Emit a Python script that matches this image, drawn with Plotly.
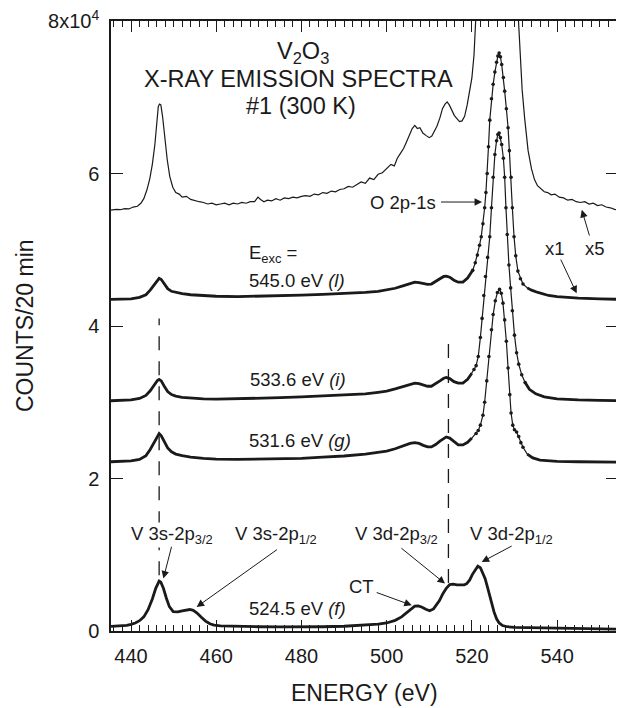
import plotly.graph_objects as go

# ---------------- data ----------------
energy_x5 = [435.3, 436.5, 437.5, 438.5, 439.5, 440.5, 441.5, 442.3, 443, 443.7, 444.4, 445, 445.6, 446.1, 446.4,
             446.7, 447.0, 447.4, 447.9, 448.5, 449.1, 449.8, 450.5, 451.3, 452, 453, 454, 455, 456, 457, 458,
             459, 460, 461, 462, 463, 464, 465, 466, 467, 468, 469, 469.8, 470.4, 471.2, 472, 473, 474, 475,
             476, 477, 478, 479, 480, 481, 482, 483, 484, 485, 486, 487, 488, 489, 490, 491, 492, 493, 494,
             495, 496, 497, 498, 499, 500, 501, 501.8, 502.5, 503.2, 504, 504.7, 505.4, 506, 506.6, 507.2,
             507.8, 508.5, 509.2, 510, 510.6, 511.2, 511.8, 512.5, 513.1, 513.7, 514.2, 514.7, 515.3, 515.9,
             516.5, 517.1, 517.7, 518.3, 518.9, 519.5, 520, 520.5, 521, 521.5, 522.5, 524, 526.4, 528.5, 530,
             530.5, 530.9, 531.3, 531.8, 532.4, 533.2, 534, 534.7, 535.4, 536.2, 537, 537.8, 538.6, 539.5,
             540.5, 541.5, 542.5, 543.5, 544.5, 545.5, 546.5, 547.5, 548.5, 549.5, 550.5, 551.5, 552.5,
             553.5, 554.3]
counts_x5 = [55200, 55300, 55250, 55400, 55350, 55600, 55700, 56100, 56700, 57800, 59300, 61200, 63800, 66800,
             68800, 69100, 69000, 67500, 64800, 61800, 59600, 58200, 57500, 57300, 56900, 57000, 56600, 56500,
             56300, 56200, 56000, 56100, 55900, 56000, 56100, 55900, 56100, 56000, 56200, 56100, 56300, 56300,
             56900, 56600, 56300, 56500, 56400, 56700, 56500, 56800, 56700, 56900, 56800, 57000, 57100, 57000,
             57300, 57200, 57500, 57400, 57700, 57600, 57900, 58000, 58300, 58200, 58600, 58900, 58700, 59400,
             59200, 59900, 60100, 60600, 61200, 61000, 62000, 62600, 63300, 64200, 65200, 65900, 66300, 65900,
             66000, 65300, 65000, 64700, 64900, 65600, 66200, 67300, 68500, 69100, 69400, 69000, 68300, 67600,
             67200, 66800, 66900, 67500, 69000, 70800, 72500, 75500, 80500, 87000, 110000, 160000, 210000,
             170000, 105000, 90000, 80500, 75500, 71000, 67200, 63000, 60600, 59200, 58400, 58000, 57600, 57500,
             57200, 57300, 56900, 56800, 56500, 56600, 56300, 56200, 56300, 56000, 56100, 55800, 55900, 55600,
             55500, 55300, 55200]

energy_l = [435.3, 438, 440, 442, 443.5, 444.5, 445.5, 446.2, 446.6, 447.1, 447.8, 448.6, 449.5, 450.5, 452,
            454, 457, 460, 465, 470, 475, 480, 485, 490, 495, 498, 500, 502, 504, 505.5, 506.6, 507.6, 508.6,
            509.6, 510.5, 511.5, 512.5, 513.4, 514, 514.8, 515.8, 516.8, 517.9, 519, 520.2, 520.8, 521.3,
            521.8, 522.2, 522.6, 523, 523.3, 523.6, 523.9, 524.2, 524.6, 525, 525.4, 525.8, 526.1, 526.4,
            526.7, 527, 527.4, 527.7, 528.1, 528.5, 528.8, 529.2, 529.5, 529.9, 530.3, 530.8, 531.4, 532,
            533, 534, 535.5, 538, 540, 545, 550, 554.3]
counts_l = [43500, 43500, 43550, 43750, 44100, 44700, 45500, 46100, 46250, 46100, 45500, 44900, 44550, 44400,
            44250, 44100, 44000, 43900, 43850, 43900, 43950, 44050, 44150, 44250, 44400, 44550, 44700, 44950,
            45300, 45550, 45750, 45700, 45550, 45450, 45500, 45800, 46200, 46500, 46550, 46400, 46000, 45750,
            45750, 46300, 47300, 48300, 49300, 50600, 51700, 53400, 55500, 57500, 60000, 63500, 67000, 69800,
            71700, 73300, 74600, 75400, 75800, 75300, 74300, 72600, 70800, 68500, 66000, 63000, 59500, 55500,
            51700, 49200, 47200, 46200, 45500, 45000, 44700, 44400, 44000, 43850, 43650, 43550, 43500]

energy_i = [435.3, 438, 440, 442, 443.5, 444.5, 445.5, 446.2, 446.6, 447.1, 447.8, 448.6, 449.5, 450.5, 452,
            454, 457, 460, 465, 470, 475, 480, 485, 490, 495, 498, 500, 502, 504, 505.5, 506.6, 507.6, 508.6,
            509.6, 510.5, 511.5, 512.5, 513.4, 514, 514.8, 515.8, 516.8, 517.9, 519, 520, 520.5, 521, 521.5,
            522, 522.4, 522.8, 523.2, 523.7, 524.2, 524.6, 525, 525.4, 525.8, 526.1, 526.4, 526.7, 527,
            527.4, 527.7, 528, 528.3, 528.7, 529.1, 529.5, 530, 530.5, 531, 531.7, 532.5, 533.5, 535, 537,
            540, 545, 550, 554.3]
counts_i = [30200, 30250, 30300, 30500, 30900, 31500, 32300, 32850, 33000, 32800, 32100, 31400, 31000, 30800,
            30650, 30550, 30450, 30400, 30450, 30500, 30600, 30700, 30850, 30950, 31100, 31300, 31450, 31750,
            32100, 32350, 32500, 32450, 32250, 32100, 32100, 32400, 32800, 33150, 33250, 33100, 32700, 32500,
            32500, 33000, 33800, 34300, 34800, 36000, 38500, 41000, 44000, 46500, 49000, 51700, 55500, 59500,
            62500, 64300, 65100, 65300, 64700, 63800, 62000, 59500, 55500, 52000, 48000, 45000, 42000, 38800,
            36500, 35000, 33600, 32600, 31700, 31100, 30700, 30450, 30300, 30250, 30200]

energy_g = [435.3, 438, 440, 442, 443.5, 444.5, 445.5, 446.2, 446.6, 447.1, 447.8, 448.6, 449.5, 450.5, 452,
            454, 457, 460, 465, 470, 475, 480, 485, 490, 495, 498, 500, 502, 504, 505.5, 506.6, 507.6, 508.6,
            509.6, 510.5, 511.5, 512.5, 513.4, 514, 514.8, 515.8, 516.8, 517.9, 519, 520, 521, 521.5, 522,
            522.6, 523, 523.5, 524, 524.6, 525, 525.5, 526, 526.5, 526.9, 527.3, 527.7, 528.1, 528.5, 528.9,
            529.2, 529.6, 530, 530.5, 531, 531.5, 532, 533, 534.3, 536, 538, 540, 545, 550, 554.3]
counts_g = [22200, 22250, 22300, 22500, 23000, 23800, 24900, 25600, 25900, 25600, 24800, 24000, 23500, 23200,
            23000, 22800, 22650, 22550, 22500, 22550, 22600, 22650, 22800, 22950, 23200, 23400, 23600, 23900,
            24300, 24600, 24700, 24600, 24350, 24150, 24150, 24450, 24900, 25300, 25450, 25300, 24800, 24400,
            24400, 24750, 25300, 25900, 26300, 27000, 28300, 30000, 32800, 36000, 39500, 41500, 43300, 44400,
            44800, 44300, 43000, 40800, 38000, 34500, 31000, 28600, 27000, 26400, 26100, 25500, 24700, 24100,
            23200, 22700, 22400, 22300, 22250, 22200, 22200, 22150]

energy_f = [435.3, 437, 439, 440, 441, 442, 443, 444, 445, 445.8, 446.3, 446.6, 447.0, 447.6, 448.3, 449,
            449.9, 451, 452, 453, 453.8, 454.6, 455.5, 456.5, 457.5, 458.5, 459.5, 461, 465, 470, 475, 480,
            485, 490, 495, 498, 500, 502, 503.5, 504.8, 505.8, 506.6, 507.4, 508.2, 509.2, 510.1, 511,
            511.8, 512.4, 513.2, 514, 514.8, 515.6, 516.5, 517.5, 518.2, 518.8, 519.5, 520.1, 520.7, 521.4,
            522, 522.6, 523.1, 523.6, 524.1, 524.6, 525.2, 525.8, 526.4, 527.2, 528.3, 530, 535, 540, 545,
            550, 554.3]
counts_f = [600, 650, 750, 880, 1050, 1350, 1850, 2800, 4200, 5600, 6300, 6550, 6400, 5600, 4300, 3200, 2550,
            2500, 2650, 2780, 2820, 2700, 2350, 1800, 1300, 950, 780, 680, 600, 560, 540, 520, 560, 620, 760,
            900, 1050, 1400, 1850, 2450, 3000, 3250, 3300, 3150, 2850, 2650, 2900, 3500, 4000, 4900, 5600,
            6100, 6150, 6050, 6000, 6050, 6200, 6700, 7400, 8000, 8500, 8300, 7600, 6900, 5900, 4800, 3600,
            2500, 1600, 1050, 720, 560, 480, 420, 370, 330, 280, 250]

x_tick_vals = [440, 460, 480, 500, 520, 540]
y_tick_vals = [0, 20000, 40000, 60000, 80000]
y_tick_text = ["0", "2", "4", "6", "8x10<sup>4</sup>"]

dashed_lines = [  # (energy, y_from, y_to)
    (446.6, 7300, 41000),
    (514.5, 6300, 38800),
]

FONT = "Liberation Sans, Arial, Helvetica, sans-serif"
INK = "#1a1a1a"

fig = go.Figure()

# dashed guide lines (drawn below the curves)
for ex, y0, y1 in dashed_lines:
    fig.add_shape(type="line", xref="x", yref="y", x0=ex, x1=ex, y0=y0, y1=y1,
                  line=dict(color=INK, width=1.3, dash="14px,11px"), layer="below")

# x5 curve (thin)
fig.add_trace(go.Scatter(x=energy_x5, y=counts_x5, mode="lines",
                         line=dict(color=INK, width=1.2), showlegend=False, hoverinfo="skip"))


def add_x1(energy, counts, lo=520.3, hi=532.2):
    # thin full curve
    fig.add_trace(go.Scatter(x=energy, y=counts, mode="lines",
                             line=dict(color=INK, width=1.2), showlegend=False, hoverinfo="skip"))
    # thick flat parts
    xs, ys = [], []
    for e, c in zip(energy, counts):
        if e <= lo:
            xs.append(e); ys.append(c)
    xs.append(None); ys.append(None)
    for e, c in zip(energy, counts):
        if e >= hi:
            xs.append(e); ys.append(c)
    fig.add_trace(go.Scatter(x=xs, y=ys, mode="lines", connectgaps=False,
                             line=dict(color=INK, width=2.8), showlegend=False, hoverinfo="skip"))
    # dots on the O 2p-1s peak
    mx = [e for e in energy if lo - 0.2 <= e <= hi + 0.5]
    my = [c for e, c in zip(energy, counts) if lo - 0.2 <= e <= hi + 0.5]
    fig.add_trace(go.Scatter(x=mx, y=my, mode="markers",
                             marker=dict(color=INK, size=3.6), showlegend=False, hoverinfo="skip"))


add_x1(energy_l, counts_l)
add_x1(energy_i, counts_i)
add_x1(energy_g, counts_g)

fig.add_trace(go.Scatter(x=energy_f, y=counts_f, mode="lines",
                         line=dict(color=INK, width=2.8), showlegend=False, hoverinfo="skip"))

ann_font = dict(family=FONT, size=18.5, color=INK)
title_font = dict(family=FONT, size=23.5, color=INK)


def text(x, y, s, xanchor="left", font=ann_font, bg=None):
    kw = dict(x=x, y=y, xref="x", yref="y", text=s, showarrow=False,
              xanchor=xanchor, yanchor="middle", font=font)
    if bg:
        kw["bgcolor"] = bg
        kw["borderpad"] = 0
    fig.add_annotation(**kw)


def arrow(x_head, y_head, x_tail, y_tail):
    fig.add_annotation(x=x_head, y=y_head, ax=x_tail, ay=y_tail, xref="x", yref="y",
                       axref="x", ayref="y", text="", showarrow=True,
                       arrowhead=2, arrowsize=1.5, arrowwidth=1.0, arrowcolor=INK)


# title block
text(480.4, 75900, "V<sub>2</sub>O<sub>3</sub>", xanchor="center", font=title_font)
text(479.3, 72400, "X-RAY EMISSION SPECTRA", xanchor="center", font=title_font)
text(479.9, 68860, "#1 (300 K)", xanchor="center", font=title_font)

# O 2p-1s
text(512.1, 56260, "O 2p-1s", xanchor="right")
arrow(522.4, 56260, 512.4, 56260)

# x1 / x5
text(539.5, 50220, "x1", xanchor="center")
text(548.9, 50220, "x5", xanchor="center")
arrow(544.6, 44280, 540.7, 48910)
arrow(545.8, 55230, 547.7, 51670)

# excitation energies
text(467.2, 49500, "E<sub>exc</sub> =")
text(467.2, 46020, "545.0 eV <i>(l)</i>")
text(467.4, 33030, "533.6 eV <i>(i)</i>")
text(467.2, 25030, "531.6 eV <i>(g)</i>")
text(467.2, 2980, "524.5 eV <i>(f)</i>")

# peak labels
text(439.8, 12600, "V 3s-2p<sub>3/2</sub>", bg="white")
text(463.9, 12600, "V 3s-2p<sub>1/2</sub>")
text(492.1, 12600, "V 3d-2p<sub>3/2</sub>")
text(519.1, 12600, "V 3d-2p<sub>1/2</sub>")
text(490.6, 5870, "CT")

arrow(447.6, 6880, 449.6, 11250)
arrow(455.4, 3150, 474.6, 10810)
arrow(513.7, 6220, 503.1, 11020)
arrow(522.3, 9050, 529.7, 11250)
arrow(505.9, 3370, 497.3, 5120)

# axis titles
fig.add_annotation(x=0, y=0.5, xref="paper", yref="paper", text="COUNTS/20 min",
                   textangle=-90, showarrow=False, xanchor="center", yanchor="middle",
                   xshift=-86, font=dict(family=FONT, size=23, color=INK))
fig.add_annotation(x=0.5, y=0, xref="paper", yref="paper", text="ENERGY (eV)",
                   showarrow=False, xanchor="center", yanchor="middle",
                   yshift=-62, font=dict(family=FONT, size=23, color=INK))

fig.update_xaxes(range=[435.3, 554.3], tickvals=x_tick_vals, ticks="inside", ticklen=11, tickwidth=1.3,
                 tickcolor=INK, showline=True, linecolor=INK, linewidth=1.5, mirror="ticks",
                 showgrid=False, zeroline=False, automargin=False, ticklabeloverflow="allow",
                 minor=dict(dtick=2, tick0=440, ticks="inside", ticklen=6, tickwidth=1.1, tickcolor=INK,
                            showgrid=False),
                 tickfont=dict(family=FONT, size=20, color=INK), ticklabelstandoff=6)
fig.update_yaxes(range=[0, 80000], tickvals=y_tick_vals, ticktext=y_tick_text, ticks="inside",
                 ticklen=12, tickwidth=1.3, tickcolor=INK, showline=True, linecolor=INK, linewidth=1.5,
                 mirror="ticks", showgrid=False, zeroline=False, automargin=False, ticklabeloverflow="allow",
                 tickfont=dict(family=FONT, size=20, color=INK), ticklabelstandoff=6)

# the page body adds an 8 px margin, so the figure is 616 x 700 and sits at (8, 8)
fig.update_layout(width=616, height=700, margin=dict(l=103, r=6, t=13, b=77, autoexpand=False),
                  paper_bgcolor="white", plot_bgcolor="white", showlegend=False,
                  font=dict(family=FONT, color=INK))

fig.write_html("out.html")
